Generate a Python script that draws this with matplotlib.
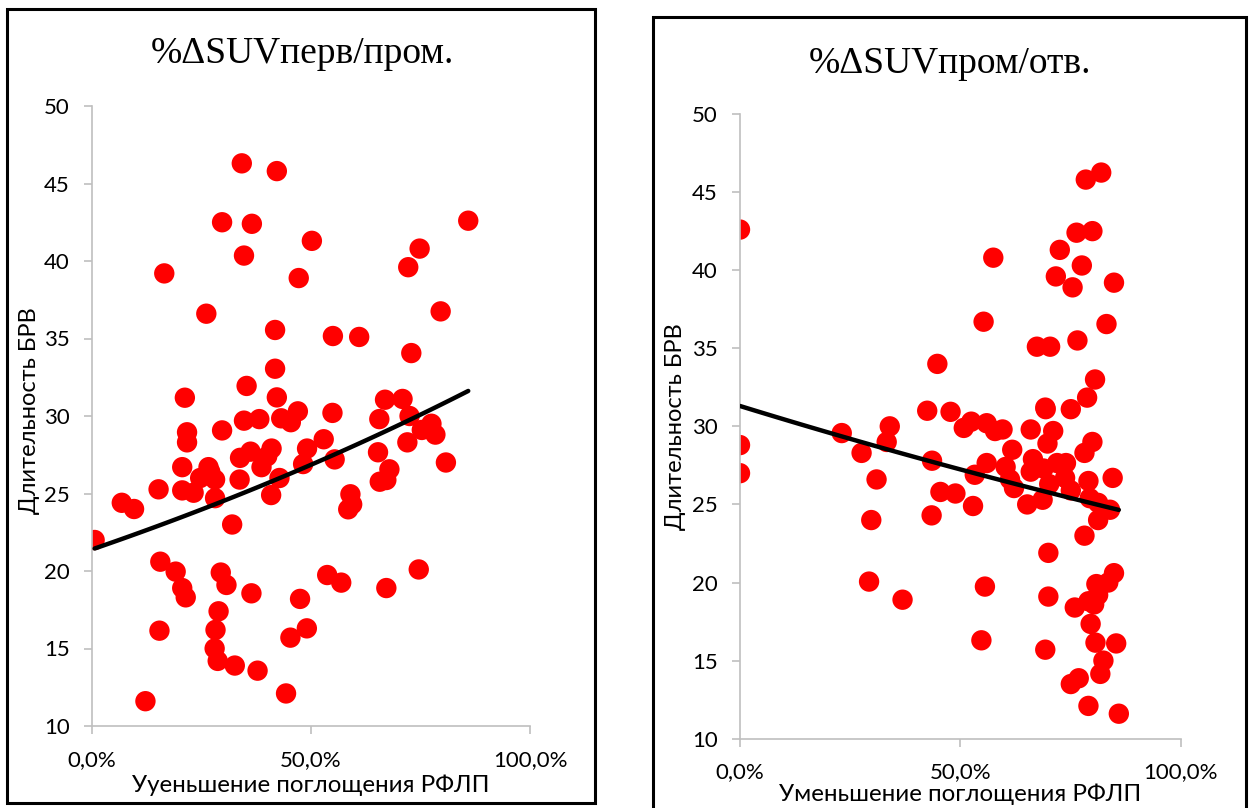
import numpy as np
import matplotlib.pyplot as plt
from matplotlib.patches import Rectangle
from matplotlib.ticker import FuncFormatter

plt.rcParams['font.family'] = ['Lato', 'DejaVu Sans']

# %SUV decrease, first -> interim scan (percent) and BRV duration
x_first = [34.2, 42.2, 29.7, 36.5, 85.9, 50.2, 74.8, 34.7, 72.2, 16.5, 47.2, 26.1,
           79.6, 41.8, 55.0, 61.0, 72.9, 41.8, 35.3, 21.2, 42.2, 66.9, 70.9,
           34.7, 38.2, 43.2, 45.4, 47.0, 54.9, 65.6, 72.5, 29.7, 21.7, 21.7, 77.5,
           78.4, 72.0, 75.3, 52.9, 49.1, 55.4, 65.3, 67.9, 80.8, 65.7, 67.2, 59.0,
           59.4, 58.5, 48.2, 41.0, 40.0, 36.2, 33.8, 38.7, 42.8, 33.7, 40.9, 26.6,
           27.0, 28.1, 24.7, 20.6, 20.6, 23.2, 28.1, 15.2, 6.8, 9.6, 32.0, 0.6,
           15.6, 19.1, 20.6, 21.4, 29.4, 30.7, 36.4, 47.5, 53.7, 56.9, 67.2, 74.6,
           28.9, 28.2, 28.0, 28.7, 32.6, 37.8, 15.4, 45.3, 49.05, 44.3, 12.2]
y_first = [46.3, 45.8, 42.5, 42.4, 42.6, 41.3, 40.8, 40.35, 39.6, 39.2, 38.9, 36.6,
           36.75, 35.55, 35.16, 35.1, 34.06, 33.05, 31.94, 31.18, 31.2, 31.05, 31.1,
           29.7, 29.8, 29.85, 29.6, 30.3, 30.2, 29.8, 30.0, 29.07, 28.95, 28.3, 29.5,
           28.8, 28.3, 29.1, 28.5, 27.9, 27.2, 27.66, 26.56, 27.0, 25.76, 25.87, 24.95,
           24.3, 23.98, 26.9, 27.9, 27.4, 27.7, 27.3, 26.7, 26.0, 25.9, 24.9, 26.7,
           26.4, 25.9, 26.0, 26.7, 25.2, 25.05, 24.7, 25.27, 24.4, 24.0, 23.0, 22.0,
           20.6, 19.96, 18.9, 18.3, 19.9, 19.1, 18.56, 18.2, 19.74, 19.25, 18.9, 20.1,
           17.4, 16.2, 15.0, 14.2, 13.9, 13.57, 16.15, 15.7, 16.3, 12.1, 11.6]

# %SUV decrease, interim -> final scan (percent) and BRV duration
x_second = [0.0, 82.0, 78.5, 76.4, 80.0, 72.6, 57.5, 77.6, 71.7, 75.5, 84.9, 55.3,
            83.2, 76.6, 67.4, 70.4, 44.8, 80.6, 78.8, 42.5, 47.8, 69.4, 75.1,
            0.0, 0.0, 23.1, 27.6, 34.0, 33.3, 31.0, 29.8, 29.3, 36.9, 43.6, 43.5,
            45.5, 48.9, 50.8, 52.5, 56.0, 57.9, 59.6, 53.3, 52.9, 56.0, 60.3, 61.8,
            61.3, 62.2, 66.0, 69.3, 66.5, 66.0, 68.9, 69.8, 71.1, 65.2, 68.7, 72.0,
            74.0, 73.8, 75.1, 70.2, 78.2, 80.0, 79.1, 79.4, 81.3, 81.3, 84.0, 84.6,
            78.2, 70.0, 70.0, 55.6, 54.8, 69.3, 76.0, 79.1, 81.3, 80.9, 83.6, 84.9,
            79.6, 80.7, 85.4, 82.5, 81.8, 75.1, 76.9, 79.1, 86.0, 80.4]
y_second = [42.6, 46.25, 45.8, 42.4, 42.5, 41.3, 40.8, 40.3, 39.6, 38.9, 39.2, 36.7,
            36.55, 35.5, 35.1, 35.1, 34.0, 33.0, 31.84, 31.0, 30.93, 31.1, 31.1,
            28.8, 27.0, 29.57, 28.3, 30.0, 29.0, 26.6, 24.0, 20.06, 18.9, 27.8, 24.3,
            25.8, 25.7, 29.9, 30.3, 30.2, 29.7, 29.8, 26.9, 24.9, 27.65, 27.4, 28.5,
            26.6, 26.05, 29.8, 31.2, 27.9, 27.1, 27.3, 28.9, 29.7, 25.0, 25.3, 27.65,
            27.65, 26.7, 25.9, 26.3, 28.3, 29.0, 26.5, 25.4, 25.1, 24.0, 24.66, 26.7,
            23.0, 21.9, 19.1, 19.74, 16.3, 15.7, 18.4, 18.8, 19.2, 19.9, 20.0, 20.6,
            17.35, 16.15, 16.1, 15.0, 14.15, 13.5, 13.87, 12.1, 11.6, 18.6]

panels = [
    dict(title='%ΔSUVперв/пром.', xlabel='Ууеньшение поглощения РФЛП',
         x=x_first, y=y_first, rect=[92/1251, 82/808, 438/1251, 620/808],
         frame=(7, 9, 595, 803), title_xy=(302, 54), ylab=(30, 411), xlab_y=785),
    dict(title='%ΔSUVпром/отв.', xlabel='Уменьшение поглощения РФЛП',
         x=x_second, y=y_second, rect=[740/1251, 69.3/808, 440.5/1251, 624.7/808],
         frame=(653, 17, 1246, 830), title_xy=(950, 64), ylab=(675, 427), xlab_y=794),
]

W, H = 1251, 808
fig = plt.figure(figsize=(W / 100, H / 100), dpi=100)

pct = FuncFormatter(lambda v, pos: '{:.1f}%'.format(v * 100).replace('.', ','))

for p in panels:
    x = np.array(p['x']) / 100
    y = np.array(p['y'])

    # outer border of each chart
    fx0, fy0, fx1, fy1 = p['frame']
    fig.patches.append(Rectangle((fx0 / W, 1 - fy1 / H), (fx1 - fx0) / W, (fy1 - fy0) / H,
                                 transform=fig.transFigure, fill=False,
                                 edgecolor='black', linewidth=2.2, clip_on=False))

    ax = fig.add_axes(p['rect'])
    ax.scatter(x, y, s=215, color='#FF0000', edgecolors='none', zorder=2)

    # exponential trend line, fitted the same way as a spreadsheet does
    b, lna = np.polyfit(x, np.log(y), 1)
    xt = np.linspace(x.min(), x.max(), 100)
    ax.plot(xt, np.exp(lna) * np.exp(b * xt), color='black', linewidth=3.2,
            solid_capstyle='round', zorder=3)

    ax.set_xlim(0, 1)
    ax.set_ylim(10, 50)
    ax.set_xticks([0, 0.5, 1])
    ax.set_yticks(range(10, 51, 5))
    ax.xaxis.set_major_formatter(pct)
    for side in ['top', 'right']:
        ax.spines[side].set_visible(False)
    for side in ['left', 'bottom']:
        ax.spines[side].set_color('#BFBFBF')
        ax.spines[side].set_linewidth(1.2)
    ax.tick_params(axis='both', direction='out', length=6, width=1.2,
                   color='#BFBFBF', labelsize=16, labelcolor='black')
    ax.tick_params(axis='y', pad=10)
    ax.tick_params(axis='x', pad=11)

    fig.text(p['title_xy'][0] / W, 1 - p['title_xy'][1] / H, p['title'],
             ha='center', va='center', fontsize=27, family='Liberation Serif')
    fig.text(p['ylab'][0] / W, 1 - p['ylab'][1] / H, 'Длительность БРВ', rotation=90,
             ha='center', va='center', fontsize=17)
    cx = (p['rect'][0] + p['rect'][2] / 2.0)
    fig.text(cx, 1 - p['xlab_y'] / H, p['xlabel'], ha='center', va='center', fontsize=17.4)

fig.savefig('out.png', dpi=100, facecolor='white')
